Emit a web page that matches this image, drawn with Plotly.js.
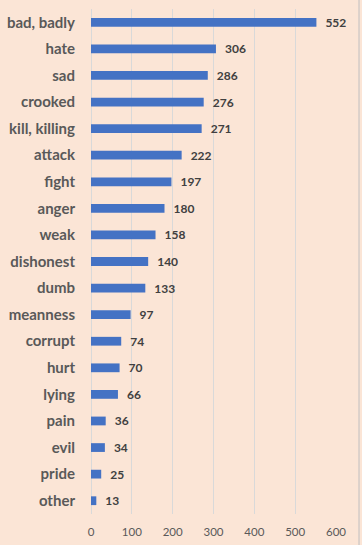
<!DOCTYPE html>
<html>
<head>
<meta charset="utf-8">
<script src="https://cdn.plot.ly/plotly-3.0.1.min.js"></script>
<style>
html,body{margin:0;padding:0;background:#FBE5D6;}
#chart{width:362px;height:545px;}
</style>
</head>
<body>
<div id="chart"></div>
<script>
var categories = ["bad, badly","hate","sad","crooked","kill, killing","attack","fight","anger","weak","dishonest","dumb","meanness","corrupt","hurt","lying","pain","evil","pride","other"];
var counts = [552,306,286,276,271,222,197,180,158,140,133,97,74,70,66,36,34,25,13];
var xTicks = [0,100,200,300,400,500,600];

var trace = {
  type: 'bar',
  orientation: 'h',
  y: categories,
  x: counts,
  text: counts.map(function (v) { return '\u2002' + v; }),
  textposition: 'outside',
  constraintext: 'none',
  cliponaxis: false,
  textfont: {family: 'Lato, "Open Sans", sans-serif', size: 12, color: '#404040', weight: 'bold'},
  marker: {color: '#4472C4'},
  hoverinfo: 'none'
};

var layout = {
  width: 362, height: 545,
  margin: {l: 90.5, r: 25.5, t: 9, b: 31, pad: 0},
  paper_bgcolor: '#FBE5D6',
  plot_bgcolor: '#FBE5D6',
  bargap: 0.67,
  showlegend: false,
  xaxis: {
    range: [0, 600],
    tickvals: xTicks,
    ticktext: xTicks.map(String),
    showgrid: true, gridcolor: '#D9D9D9', gridwidth: 1,
    zeroline: true, zerolinecolor: '#D9D9D9', zerolinewidth: 1,
    showline: false, ticks: '',
    ticklabelstandoff: 9,
    tickfont: {family: 'Lato, "Open Sans", sans-serif', size: 11.5, color: '#595959'},
    fixedrange: true
  },
  yaxis: {
    type: 'category',
    autorange: 'reversed',
    showgrid: false, zeroline: false, showline: false, ticks: '',
    ticklabelstandoff: 15,
    tickfont: {family: 'Lato, "Open Sans", sans-serif', size: 15, color: '#595959', weight: 'bold'},
    fixedrange: true
  },
  shapes: [{
    type: 'line', xref: 'paper', yref: 'paper',
    x0: 1.094, x1: 1.094, y0: -0.1, y1: 1.05,
    line: {color: '#BFBFBF', width: 1}
  }]
};

Plotly.newPlot('chart', [trace], layout, {displayModeBar: false, staticPlot: true});
</script>
</body>
</html>
